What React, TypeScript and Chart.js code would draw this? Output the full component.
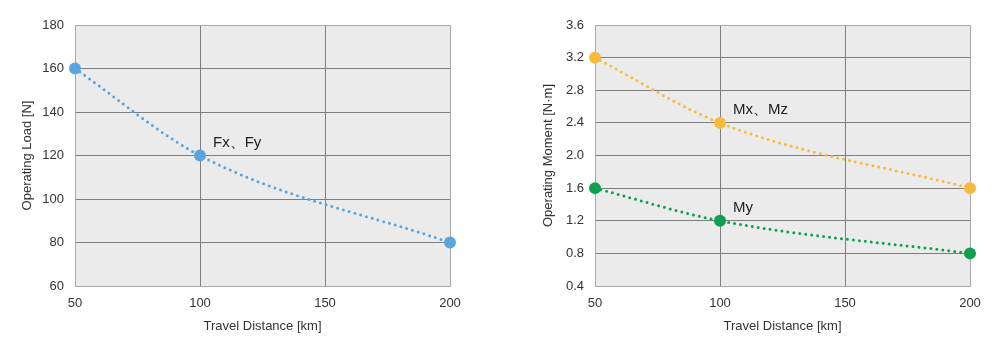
import React, { useEffect, useRef } from "react";
import { Chart, registerables } from "chart.js";

Chart.register(...registerables);

// ---- data ----
const distances = [50, 100, 200];
const loadFxFy = [160, 120, 80];
const momentMxMz = [3.2, 2.4, 1.6];
const momentMy = [1.6, 1.2, 0.8];
const distanceTicks = [50, 100, 150, 200];
const loadTicks = [60, 80, 100, 120, 140, 160, 180];
const momentTicks = [0.4, 0.8, 1.2, 1.6, 2.0, 2.4, 2.8, 3.2, 3.6];
const xTitle = "Travel Distance [km]";
const loadTitle = "Operating Load [N]";
const momentTitle = "Operating Moment [N·m]";

type Series = { label: string; values: number[]; color: string; noteIndex: number };

const loadSeries: Series[] = [
  { label: "Fx、Fy", values: loadFxFy, color: "#5aa5e0", noteIndex: 1 },
];
const momentSeries: Series[] = [
  { label: "Mx、Mz", values: momentMxMz, color: "#f9b93c", noteIndex: 1 },
  { label: "My", values: momentMy, color: "#0da04e", noteIndex: 1 },
];

const FONT = "'Liberation Sans', Arial, Helvetica, sans-serif";
const TEXT = "#333333";
const EDGE = "#a8a8a8";
const INNER = "#7e7e7e";
const PLOT_BG = "#ebebeb";

const decoPlugin = {
  id: "panelDeco",
  beforeDraw(chart: any) {
    const { ctx, chartArea } = chart;
    ctx.save();
    ctx.fillStyle = PLOT_BG;
    ctx.fillRect(chartArea.left, chartArea.top, chartArea.right - chartArea.left, chartArea.bottom - chartArea.top);
    ctx.restore();
  },
  afterDatasetsDraw(chart: any) {
    const { ctx } = chart;
    const xs = chart.scales.x;
    const ys = chart.scales.y;
    ctx.save();
    ctx.font = `15px ${FONT}`;
    ctx.fillStyle = "#222222";
    ctx.textAlign = "left";
    ctx.textBaseline = "middle";
    chart.data.datasets.forEach((ds: any) => {
      const i = ds.noteIndex;
      const p = ds.data[i];
      const px = xs.getPixelForValue(p.x);
      const py = ys.getPixelForValue(p.y);
      ctx.fillText(ds.label, px + 13, py - 13);
    });
    ctx.restore();
  },
};

type PanelProps = {
  series: Series[];
  yTicks: number[];
  yTitle: string;
  decimals: number;
  left: number;
  yWidth: number;
  padRight: number;
  yTitlePad: number;
};

function Panel(props: PanelProps) {
  const ref = useRef<HTMLCanvasElement | null>(null);
  useEffect(() => {
    if (!ref.current) return;
    const { series, yTicks, yTitle, decimals, yWidth, padRight, yTitlePad } = props;
    const yMin = yTicks[0];
    const yMax = yTicks[yTicks.length - 1];
    const xMin = distanceTicks[0];
    const xMax = distanceTicks[distanceTicks.length - 1];
    const chart = new Chart(ref.current, {
      type: "line",
      data: {
        datasets: series.map((s) => ({
          label: s.label,
          noteIndex: s.noteIndex,
          data: distances.map((d, i) => ({ x: d, y: s.values[i] })),
          borderColor: s.color,
          backgroundColor: s.color,
          borderWidth: 3,
          borderDash: [0, 6],
          borderCapStyle: "round",
          cubicInterpolationMode: "monotone",
          pointRadius: 6,
          pointHoverRadius: 6,
          pointBorderWidth: 0,
          pointBackgroundColor: s.color,
          fill: false,
          clip: false,
        })) as any,
      },
      options: {
        responsive: false,
        animation: false,
        devicePixelRatio: 1,
        layout: { padding: { left: 0, top: 25, right: padRight, bottom: 0 } },
        plugins: { legend: { display: false }, tooltip: { enabled: false } },
        events: [],
        scales: {
          x: {
            type: "linear",
            min: xMin,
            max: xMax,
            afterBuildTicks: (sc: any) => {
              sc.ticks = distanceTicks.map((v) => ({ value: v }));
            },
            afterFit: (sc: any) => {
              sc.height = 69;
            },
            ticks: {
              color: TEXT,
              font: { family: FONT, size: 13 },
              padding: 10,
              maxRotation: 0,
              callback: (v: any) => String(v),
            },
            grid: {
              drawTicks: false,
              lineWidth: 1,
              color: (c: any) =>
                c.tick && (c.tick.value === xMin || c.tick.value === xMax) ? EDGE : INNER,
            },
            border: { color: EDGE, width: 1 },
            title: {
              display: true,
              text: xTitle,
              color: TEXT,
              font: { family: FONT, size: 13 },
              padding: { top: 0, bottom: 21 },
            },
          },
          y: {
            type: "linear",
            min: yMin,
            max: yMax,
            afterBuildTicks: (sc: any) => {
              sc.ticks = yTicks.map((v) => ({ value: v }));
            },
            afterFit: (sc: any) => {
              sc.width = yWidth;
            },
            ticks: {
              color: TEXT,
              font: { family: FONT, size: 13 },
              padding: 11,
              callback: (v: any) => Number(v).toFixed(decimals),
            },
            grid: {
              drawTicks: false,
              lineWidth: 1,
              color: (c: any) =>
                c.tick && (Math.abs(c.tick.value - yMin) < 1e-9 || Math.abs(c.tick.value - yMax) < 1e-9)
                  ? EDGE
                  : INNER,
            },
            border: { color: EDGE, width: 1 },
            title: {
              display: true,
              text: yTitle,
              color: TEXT,
              font: { family: FONT, size: 13 },
              padding: { top: yTitlePad, bottom: 0 },
            },
          },
        },
      } as any,
      plugins: [decoPlugin],
    });
    return () => chart.destroy();
  }, []);
  return (
    <canvas
      ref={ref}
      width={500}
      height={355}
      style={{ position: "absolute", left: props.left, top: 0, width: 500, height: 355 }}
    />
  );
}

export default function App() {
  return (
    <div style={{ position: "absolute", left: 0, top: 0, width: 1000, height: 355, background: "#ffffff" }}>
      <Panel series={loadSeries} yTicks={loadTicks} yTitle={loadTitle} decimals={0} left={0} yWidth={75} padRight={50} yTitlePad={20} />
      <Panel series={momentSeries} yTicks={momentTicks} yTitle={momentTitle} decimals={1} left={500} yWidth={95} padRight={30} yTitlePad={41} />
    </div>
  );
}
